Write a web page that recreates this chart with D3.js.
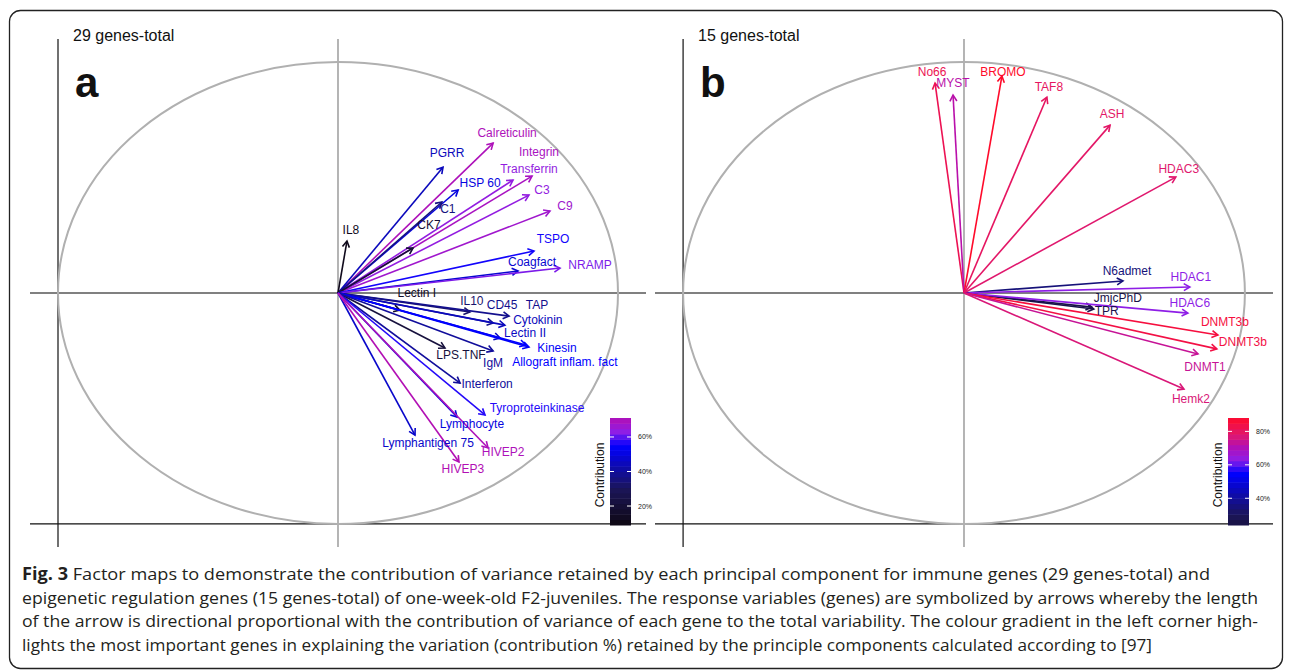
<!DOCTYPE html>
<meta charset="utf-8">
<style>
body { margin: 0; background: #fff; }
svg text { font-family: "Liberation Sans", Arial, sans-serif; }
.caption text { font-family: "Open Sans", sans-serif; font-size: 17px; fill: #231f20; }
</style>
<svg width="1292" height="672"></svg>
<script src="https://d3js.org/d3.v7.min.js"></script>
<script>

// ---- panel a: immune genes (29) ----
var genesA = ["Calreticulin", "PGRR", "Integrin", "Transferrin", "HSP 60", "C3", "C1", "C9", "CK7", "IL8",
  "TSPO", "Coagfact", "NRAMP", "Lectin I", "IL10", "TAP", "CD45", "Cytokinin", "Lectin II", "Kinesin",
  "Allograft inflam. fact", "LPS.TNF", "IgM", "Interferon", "Tyroproteinkinase", "Lymphocyte",
  "Lymphantigen 75", "HIVEP2", "HIVEP3"];
var dim1A = [0.554, 0.375, 0.693, 0.625, 0.429, 0.682, 0.371, 0.757, 0.268, 0.032,
  0.700, 0.643, 0.793, 0.221, 0.471, 0.611, 0.554, 0.596, 0.579, 0.682,
  0.671, 0.382, 0.554, 0.436, 0.525, 0.425, 0.275, 0.536, 0.432];
var dim2A = [0.649, 0.545, 0.506, 0.489, 0.446, 0.424, 0.394, 0.355, 0.195, 0.225,
  0.182, 0.095, 0.108, -0.074, -0.082, -0.100, -0.130, -0.139, -0.195, -0.234,
  -0.225, -0.238, -0.251, -0.390, -0.528, -0.537, -0.615, -0.671, -0.732];
var contribA = [70, 45, 69, 64, 50, 64, 36, 67, 20, 12,
  56, 48, 62, 15, 33, 38, 38, 45, 46, 54,
  55, 22, 40, 40, 57, 50, 47, 70, 71];

// ---- panel b: epigenetic regulation genes (15) ----
var genesB = ["No66", "MYST", "BROMO", "TAF8", "ASH", "HDAC3", "N6admet", "HDAC1", "JmjcPhD", "TPR",
  "HDAC6", "DNMT3b", "DNMT3b", "DNMT1", "Hemk2"];
var dim1B = [-0.103, -0.039, 0.135, 0.295, 0.520, 0.754, 0.566, 0.804, 0.455, 0.462,
  0.797, 0.904, 0.900, 0.833, 0.783];
var dim2B = [0.909, 0.857, 0.939, 0.848, 0.727, 0.502, 0.052, 0.026, -0.061, -0.069,
  -0.087, -0.182, -0.242, -0.264, -0.416];
var contribB = [82, 72, 88, 80, 79, 78, 35, 63, 25, 26,
  63, 85, 84, 74, 77];

var ticksA = [20, 40, 60], ticksB = [40, 60, 80];
var rangeA = [9, 71], rangeB = [24, 88];
var titles = ["29 genes-total", "15 genes-total"];
var tags = ["a", "b"];

// label placement tweaks (px, relative to arrow tip)
var nudgeA = [[14,-10],[4,-14],[7,-24],[16,-11],[22,-7],[13,-5],[6,7],[15,-5],[16,-23],[4,-11],
  [19,-12],[14,-9],[30,-3],[17,-17],[2,-11],[28,-11],[9,-18],[33,-5],[25,-5],[28,1],
  [39,17],[16,7],[0,12],[27,1],[52,-7],[15,7],[13,8],[15,4],[4,7]];
var nudgeB = [[-3,-11],[0,-12],[1,-4],[2,-10],[2,-11],[3,-8],[4,-10],[1,-10],[26,-9],[13,2],
  [2,-10],[7,-13],[26,-7],[7,13],[7,10]];

var caption = [
  ["Fig. 3", " Factor maps to demonstrate the contribution of variance retained by each principal component for immune genes (29 genes-total) and", 1188],
  ["", "epigenetic regulation genes (15 genes-total) of one-week-old F2-juveniles. The response variables (genes) are symbolized by arrows whereby the length", 1236],
  ["", "of the arrow is directional proportional with the contribution of variance of each gene to the total variability. The colour gradient in the left corner high-", 1236],
  ["", "lights the most important genes in explaining the variation (contribution %) retained by the principle components calculated according to [97]", 1130]
];

var color = d3.scaleLinear()
  .domain([9, 30, 55, 63, 71, 78, 88])
  .range(["#0e0812", "#1c1658", "#0000ff", "#8e1ee6", "#b20fb4", "#e0186e", "#ff0a2a"]);

var svg = d3.select("svg");

svg.append("rect")
  .attr("x", 9.5).attr("y", 10.5).attr("width", 1273).attr("height", 658)
  .attr("rx", 11).attr("fill", "none").attr("stroke", "#222").attr("stroke-width", 1.3);

function drawPanel(p) {
  var g = svg.append("g");
  var x = d3.scaleLinear().domain([-1.1, 1.1]).range(p.xr);
  var y = d3.scaleLinear().domain([-1.1, 1.1]).range([547, 39]);

  // frame + zero lines
  g.append("line").attr("x1", x(-1.1)).attr("x2", x(1.1)).attr("y1", y(-1)).attr("y2", y(-1))
    .attr("stroke", "#111").attr("stroke-width", 1.2);
  g.append("line").attr("x1", x(-1)).attr("x2", x(-1)).attr("y1", y(1.1)).attr("y2", y(-1.1))
    .attr("stroke", "#111").attr("stroke-width", 1.2);
  g.append("line").attr("x1", x(-1.1)).attr("x2", x(1.1)).attr("y1", y(0)).attr("y2", y(0))
    .attr("stroke", "#808080").attr("stroke-width", 1.8);
  g.append("line").attr("x1", x(0)).attr("x2", x(0)).attr("y1", y(1.1)).attr("y2", y(-1.1))
    .attr("stroke", "#777").attr("stroke-width", 1.1);

  // correlation circle
  g.append("ellipse")
    .attr("cx", x(0)).attr("cy", y(0))
    .attr("rx", x(1) - x(0)).attr("ry", y(0) - y(1))
    .attr("fill", "none").attr("stroke", "#b0b0b0").attr("stroke-width", 2);

  var data = p.genes.map(function(n, i) {
    return { name: n, d1: p.d1[i], d2: p.d2[i], c: p.contrib[i], nudge: p.nudge[i] };
  });

  var arrows = g.append("g").selectAll("g").data(data).enter().append("g");
  arrows.append("line")
    .attr("x1", x(0)).attr("y1", y(0))
    .attr("x2", function(d) { return x(d.d1); })
    .attr("y2", function(d) { return y(d.d2); })
    .attr("stroke", function(d) { return color(d.c); })
    .attr("stroke-width", 1.6);
  arrows.append("path")
    .attr("d", function(d) {
      var tx = x(d.d1), ty = y(d.d2);
      var a = Math.atan2(ty - y(0), tx - x(0)), L = 7, s = Math.PI / 6;
      return "M" + (tx - L * Math.cos(a - s)) + "," + (ty - L * Math.sin(a - s)) +
        "L" + tx + "," + ty +
        "L" + (tx - L * Math.cos(a + s)) + "," + (ty - L * Math.sin(a + s));
    })
    .attr("fill", "none")
    .attr("stroke", function(d) { return color(d.c); })
    .attr("stroke-width", 1.6);

  g.append("g").selectAll("text").data(data).enter().append("text")
    .attr("x", function(d) { return x(d.d1) + d.nudge[0]; })
    .attr("y", function(d) { return y(d.d2) + d.nudge[1]; })
    .attr("text-anchor", "middle")
    .attr("dominant-baseline", "central")
    .attr("font-size", 12)
    .attr("fill", function(d) { return color(d.c); })
    .text(function(d) { return d.name; });

  // titles
  g.append("text").attr("x", x(-1) + 15).attr("y", 41).attr("font-size", 16).attr("fill", "#111")
    .text(p.title);
  g.append("text").attr("x", x(-1) + 17).attr("y", 97).attr("font-size", 42).attr("font-weight", "bold")
    .attr("fill", "#111").text(p.tag);

  // colour bar legend
  var cb = d3.scaleLinear().domain(p.range).range([525, 418]);
  var nb = 20, step = (p.range[1] - p.range[0]) / nb;
  var bins = d3.range(nb).map(function(i) { return p.range[0] + i * step; });
  var lg = g.append("g");
  lg.selectAll("rect").data(bins).enter().append("rect")
    .attr("x", p.cbx).attr("width", 21)
    .attr("y", function(v) { return cb(v + step); })
    .attr("height", function(v) { return cb(v) - cb(v + step) + 0.5; })
    .attr("fill", function(v) { return color(v + step / 2); });
  lg.selectAll(".tk").data(p.ticks).enter().append("path")
    .attr("d", function(v) {
      return "M" + p.cbx + "," + cb(v) + "h4M" + (p.cbx + 17) + "," + cb(v) + "h4";
    })
    .attr("stroke", "#fff").attr("stroke-width", 1);
  lg.selectAll(".tl").data(p.ticks).enter().append("text")
    .attr("x", p.cbx + 28).attr("y", function(v) { return cb(v); })
    .attr("dominant-baseline", "central")
    .attr("font-size", 7).attr("fill", "#222")
    .text(function(v) { return v + "%"; });
  lg.append("text")
    .attr("transform", "translate(" + (p.cbx - 10) + ",475) rotate(-90)")
    .attr("text-anchor", "middle").attr("dominant-baseline", "central")
    .attr("font-size", 12).attr("fill", "#111")
    .text("Contribution");
}

drawPanel({ xr: [30, 646], genes: genesA, d1: dim1A, d2: dim2A, contrib: contribA, nudge: nudgeA,
  title: titles[0], tag: tags[0], range: rangeA, ticks: ticksA, cbx: 610 });
drawPanel({ xr: [655, 1273], genes: genesB, d1: dim1B, d2: dim2B, contrib: contribB, nudge: nudgeB,
  title: titles[1], tag: tags[1], range: rangeB, ticks: ticksB, cbx: 1228 });

// caption
var cap = svg.append("g").attr("class", "caption");
caption.forEach(function(c, i) {
  var t = cap.append("text").attr("x", 22).attr("y", 580 + i * 23.6)
    .attr("textLength", c[2]).attr("lengthAdjust", "spacingAndGlyphs");
  if (c[0]) t.append("tspan").attr("font-weight", "bold").text(c[0]);
  t.append("tspan").text(c[1]);
});

</script>
